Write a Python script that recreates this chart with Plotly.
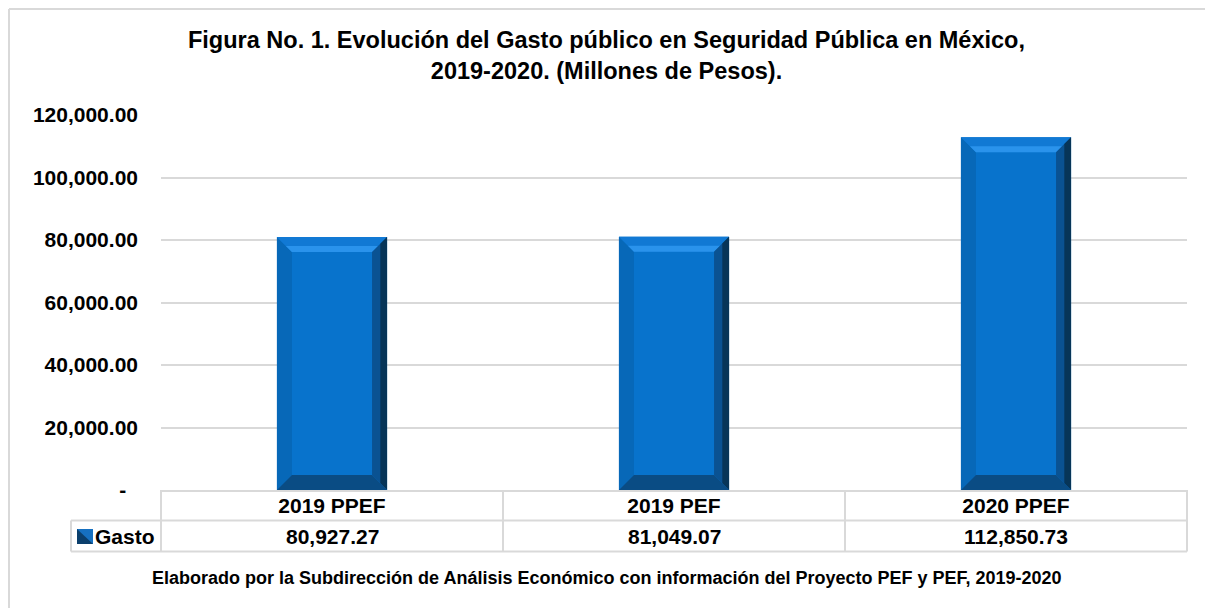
import plotly.graph_objects as go

# ---- data ----
categories = ["2019 PPEF", "2019 PEF", "2020 PPEF"]
gasto = [80927.27, 81049.07, 112850.73]
series_name = "Gasto"
y_tickvals = [0, 20000, 40000, 60000, 80000, 100000, 120000]
y_ticktext = ["-\u00a0\u00a0", "20,000.00", "40,000.00", "60,000.00",
              "80,000.00", "100,000.00", "120,000.00"]
title_text = ("Figura No. 1. Evolución del Gasto público en Seguridad Pública en México,<br>"
              "2019-2020. (Millones de Pesos).")
footer_text = ("Elaborado por la Subdirección de Análisis Económico con información "
               "del Proyecto PEF y PEF, 2019-2020")

FONT = "Arial, 'Liberation Sans', sans-serif"
OFF = 8                      # page body margin
W, H = 1213 - OFF, 608 - OFF
PLOT_L, PLOT_R, PLOT_T, PLOT_B = 161, 1187, 115, 490   # page pixel coords
ML, MR = PLOT_L - OFF, W - (PLOT_R - OFF)
MT, MB = PLOT_T - OFF, H - (PLOT_B - OFF)
PW = PLOT_R - PLOT_L
PH = PLOT_B - PLOT_T

def px_paper(x):
    return (x - PLOT_L) / PW

def py_paper(y):
    return (PLOT_B - y) / PH

xs = list(range(len(categories)))
bar_w = 0.322
bev_x = 15 / (PW / 3.0)          # bevel in x data units (~15 px)
bev_y = 15 / PH * 120000         # bevel in y data units (~15 px)

fig = go.Figure()

# main bar (face)
fig.add_trace(go.Bar(
    x=xs, y=gasto, width=bar_w, name=series_name,
    marker=dict(color="#0873cc", line=dict(width=0)),
    showlegend=False, hoverinfo="y",
))

def bevel_path(side):
    px, py = [], []
    for i, v in zip(xs, gasto):
        x0, x1 = i - bar_w / 2, i + bar_w / 2
        if side == "top":
            pts = [(x0, v), (x1, v), (x1 - bev_x, v - bev_y), (x0 + bev_x, v - bev_y)]
        elif side == "toplight":
            pts = [(x0 + bev_x * 0.6, v - bev_y * 0.6), (x1 - bev_x * 0.6, v - bev_y * 0.6),
                   (x1 - bev_x, v - bev_y), (x0 + bev_x, v - bev_y)]
        elif side == "left":
            pts = [(x0, 0), (x0, v), (x0 + bev_x, v - bev_y), (x0 + bev_x, bev_y)]
        elif side == "right":
            pts = [(x1, 0), (x1, v), (x1 - bev_x, v - bev_y), (x1 - bev_x, bev_y)]
        elif side == "rightdark":
            pts = [(x1, 0), (x1, v), (x1 - bev_x * 0.45, v - bev_y * 0.45), (x1 - bev_x * 0.45, bev_y * 0.45)]
        else:  # bottom
            pts = [(x0, 0), (x1, 0), (x1 - bev_x, bev_y), (x0 + bev_x, bev_y)]
        for p in pts + [pts[0]]:
            px.append(p[0]); py.append(p[1])
        px.append(None); py.append(None)
    return px, py

for side, col in [("left", "#0768b8"), ("top", "#1179d4"), ("toplight", "#2a93ec"),
                  ("right", "#0a5292"), ("rightdark", "#073558"), ("bottom", "#0a4c84")]:
    px, py = bevel_path(side)
    fig.add_trace(go.Scatter(x=px, y=py, mode="lines", fill="toself", fillcolor=col,
                             line=dict(width=0), hoverinfo="skip", showlegend=False))

shapes = []
line_col = "#d9d9d9"
# outer chart border (top and left edges visible in the frame)
shapes.append(dict(type="line", xref="paper", yref="paper",
                   x0=px_paper(9), x1=px_paper(1213), y0=py_paper(9), y1=py_paper(9),
                   line=dict(color=line_col, width=2), layer="below"))
shapes.append(dict(type="line", xref="paper", yref="paper",
                   x0=px_paper(9), x1=px_paper(9), y0=py_paper(9), y1=py_paper(608),
                   line=dict(color=line_col, width=2), layer="below"))

y_row1 = py_paper(520.5)
y_row2 = py_paper(551.5)
shapes.append(dict(type="line", xref="paper", yref="paper", x0=px_paper(71), x1=1, y0=y_row1, y1=y_row1,
                   line=dict(color=line_col, width=2)))
shapes.append(dict(type="line", xref="paper", yref="paper", x0=px_paper(71), x1=1, y0=y_row2, y1=y_row2,
                   line=dict(color=line_col, width=2)))
shapes.append(dict(type="line", xref="paper", yref="paper", x0=px_paper(71), x1=px_paper(71),
                   y0=y_row1, y1=y_row2, line=dict(color=line_col, width=2)))
for xv in [0, 1]:
    shapes.append(dict(type="line", xref="paper", yref="paper", x0=xv, x1=xv, y0=0, y1=y_row2,
                       line=dict(color=line_col, width=2)))
for b in [0.5, 1.5]:
    shapes.append(dict(type="line", xref="x", yref="paper", x0=b, x1=b, y0=0, y1=y_row2,
                       line=dict(color=line_col, width=2)))
# legend key square in table
kx0, kx1 = px_paper(77), px_paper(93)
ky0, ky1 = py_paper(544), py_paper(529)
shapes.append(dict(type="rect", xref="paper", yref="paper", x0=kx0, x1=kx1, y0=ky0, y1=ky1,
                   line=dict(width=0), fillcolor="#0b3f6c"))
shapes.append(dict(type="path", xref="paper", yref="paper",
                   path=f"M {kx0},{ky1} L {kx1},{ky1} L {kx1},{ky0} Z",
                   line=dict(width=0), fillcolor="#1670c0"))

annotations = []
for i, v in zip(xs, gasto):
    annotations.append(dict(x=i, xref="x", y=py_paper(536.5), yref="paper",
                            text=f"{v:,.2f}", showarrow=False, xanchor="center", yanchor="middle",
                            font=dict(family=FONT, size=21, color="#000000", weight="bold")))
annotations.append(dict(x=px_paper(93), xref="paper", y=py_paper(536.5), yref="paper",
                        text=series_name, showarrow=False, xanchor="left", yanchor="middle",
                        font=dict(family=FONT, size=21, color="#000000", weight="bold")))
annotations.append(dict(x=px_paper(606.5), xref="paper", y=py_paper(578), yref="paper",
                        text=footer_text, showarrow=False, xanchor="center", yanchor="middle",
                        font=dict(family=FONT, size=18, color="#000000", weight="bold")))

fig.update_layout(
    width=W, height=H,
    margin=dict(l=ML, r=MR, t=MT, b=MB, pad=0),
    paper_bgcolor="white", plot_bgcolor="white",
    barmode="overlay",
    title=dict(text=title_text, x=(606.5 - OFF) / W, xref="container", xanchor="center",
               y=1 - (48 - OFF) / H, yref="container", yanchor="top",
               font=dict(family=FONT, size=23.5, color="#000000", weight="bold")),
    xaxis=dict(range=[-0.5, 2.5], tickvals=xs, ticktext=categories, showgrid=False,
               zeroline=False, showline=True, linecolor=line_col, linewidth=2,
               ticks="", ticklabelstandoff=-4,
               tickfont=dict(family=FONT, size=21, color="#000000", weight="bold")),
    yaxis=dict(range=[0, 120000], tickvals=y_tickvals, ticktext=y_ticktext,
               showgrid=True, gridcolor=line_col, gridwidth=2, zeroline=False,
               showline=False, ticks="", ticklabelstandoff=22,
               tickfont=dict(family=FONT, size=21, color="#000000", weight="bold")),
    shapes=shapes, annotations=annotations, showlegend=False,
)

fig.write_html("out.html")
